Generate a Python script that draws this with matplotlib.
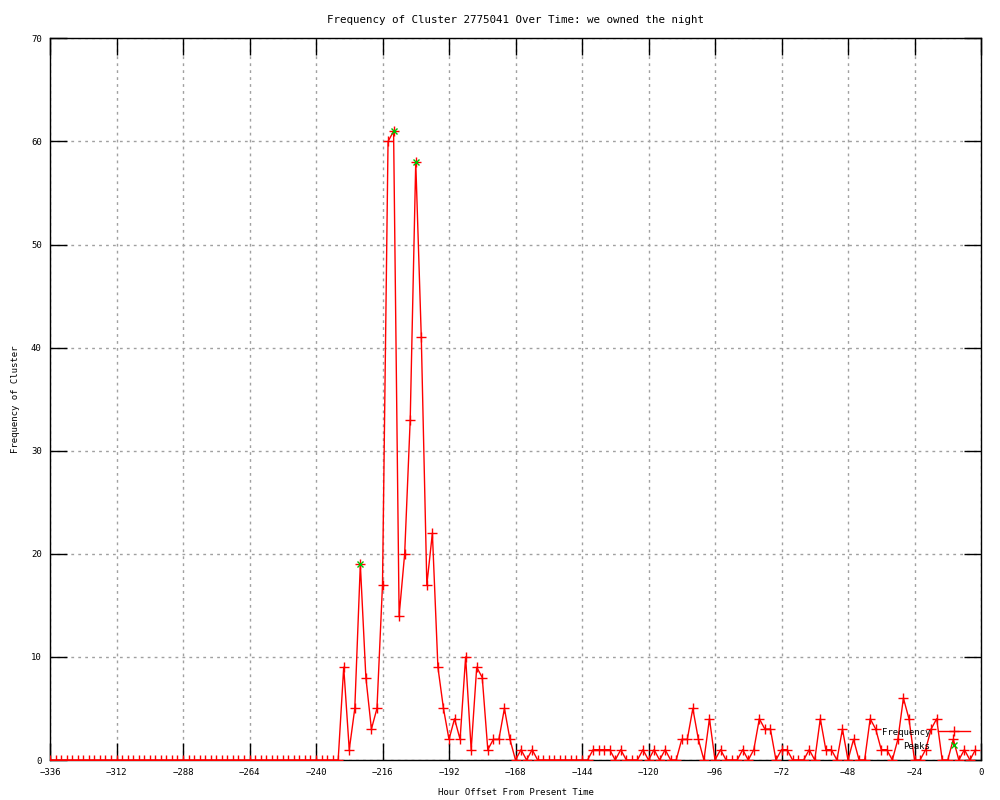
import numpy as np
import matplotlib
matplotlib.use('Agg')
import matplotlib.pyplot as plt

# 数据 (one sample every 2 hours)
hours = np.arange(-336, 0, 2)
frequency = [
    0, 0, 0, 0, 0, 0, 0, 0, 0, 0,
    0, 0, 0, 0, 0, 0, 0, 0, 0, 0,
    0, 0, 0, 0, 0, 0, 0, 0, 0, 0,
    0, 0, 0, 0, 0, 0, 0, 0, 0, 0,
    0, 0, 0, 0, 0, 0, 0, 0, 0, 0,
    0, 0, 0,                                  # -336 .. -232
    9, 1, 5, 19, 8, 3, 5, 17, 60, 61,         # -230 .. -212
    14, 20, 33, 58, 41, 17, 22, 9, 5, 2,      # -210 .. -192
    4, 2, 10, 1, 9, 8, 1, 2, 2, 5,            # -190 .. -172
    2, 0, 1, 0, 1, 0, 0, 0, 0, 0,             # -170 .. -152
    0, 0, 0, 0, 0, 1, 1, 1, 1, 0,             # -150 .. -132
    1, 0, 0, 0, 1, 0, 1, 0, 1, 0,             # -130 .. -112
    0, 2, 2, 5, 2, 0, 4, 0, 1, 0,             # -110 .. -92
    0, 0, 1, 0, 1, 4, 3, 3, 0, 1,             # -90 .. -72
    1, 0, 0, 0, 1, 0, 4, 1, 1, 0,             # -70 .. -52
    3, 0, 2, 0, 0, 4, 3, 1, 1, 0,             # -50 .. -32
    2, 6, 4, 0, 0, 1, 3, 4, 0, 0,             # -30 .. -12
    2, 0, 1, 0, 1,                            # -10 .. -2
]
peak_hours = [-224, -212, -204]
peak_values = [19, 61, 58]

x_ticks = list(range(-336, 1, 24))
y_ticks = list(range(0, 71, 10))

plt.rcParams['font.family'] = ['DejaVu Sans Mono']
plt.rcParams['font.size'] = 6.5

fig = plt.figure(figsize=(10, 8), dpi=100)
ax = fig.add_axes([0.05, 0.05, 0.931, 0.902])

ax.plot(hours, frequency, color='red', linewidth=1.0, marker='+',
        markersize=7, markeredgewidth=1.0, label='Frequency', zorder=3)
ax.plot(peak_hours, peak_values, linestyle='none', color='#00c000',
        marker='x', markersize=5, markeredgewidth=1.0, label='Peaks', zorder=4)

ax.set_xlim(-336, 0)
ax.set_ylim(0, 70)
ax.set_xticks(x_ticks)
ax.set_yticks(y_ticks)
ax.grid(True, color='#a0a0a0', linestyle=(0, (2, 3)), linewidth=1.0)
ax.set_axisbelow(True)
ax.tick_params(direction='in', length=12, width=1.0, top=True, right=True,
               labeltop=False, labelright=False, pad=6)
for sp in ax.spines.values():
    sp.set_linewidth(1.0)

ax.set_title('Frequency of Cluster 2775041 Over Time: we owned the night', pad=11)
ax.set_xlabel('Hour Offset From Present Time', labelpad=8)
ax.set_ylabel('Frequency of Cluster', labelpad=8)

ax.legend(loc='lower right', bbox_to_anchor=(0.988, 0.013), frameon=False,
          markerfirst=False, numpoints=1, handlelength=3.5, handletextpad=0.9,
          borderpad=0, borderaxespad=0, labelspacing=0.55)

fig.savefig('out.png', dpi=100)
